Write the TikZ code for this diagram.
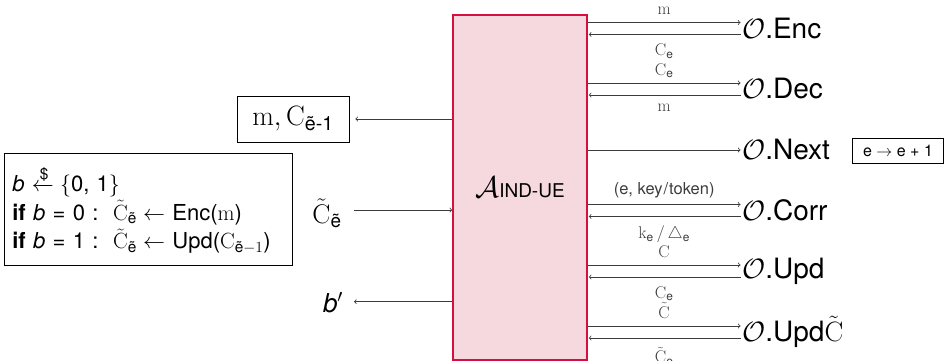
\RequirePackage{fix-cm}
\documentclass[tikz,border=0pt]{standalone}
\usepackage{amsmath}
\usepackage{amssymb}
\usepackage[no-math]{fontspec}
\setmainfont{TeX Gyre Heros}
\definecolor{aborder}{RGB}{212,16,64}
\definecolor{afill}{RGB}{246,216,223}
\definecolor{arcol}{RGB}{60,60,60}
\begin{document}
\begin{tikzpicture}[x=1pt,y=-1pt,
  ar/.style={line width=0.8pt, arcol, ->},
  olab/.style={anchor=west, inner sep=0pt, font=\fontsize{28}{32}\selectfont},
  lab/.style={font=\fontsize{17}{19}\selectfont, inner sep=0pt},
  toplab/.style={lab, anchor=base, midway, yshift=8pt},
  txtlab/.style={lab, font=\fontsize{16.5}{19}\selectfont, anchor=base, midway, yshift=9.7pt},
  botlab/.style={lab, anchor=north, midway, yshift=-9pt},
  abox/.style={draw=aborder, fill=afill, line width=1.6pt, minimum width=134pt, minimum height=345pt, inner sep=0pt},
  bx/.style={draw, line width=0.7pt}]
\useasboundingbox (0,0) rectangle (945,361);

% central adversary box
\node[abox] (A) at (520,187.5) {{\fontsize{30}{34}\selectfont$\mathcal{A}$}{\fontsize{19}{22}\selectfont IND-UE}};

% oracles
\node[olab] (enc)  at (742,28.5) {$\mathcal{O}$.Enc};
\node[olab] (dec)  at (742,89)   {$\mathcal{O}$.Dec};
\node[olab] (nxt)  at (742,150)  {$\mathcal{O}$.Next};
\node[olab] (corr) at (742,210.5) {$\mathcal{O}$.Corr};
\node[olab] (upd)  at (742,271)  {$\mathcal{O}$.Upd};
\node[olab] (updc) at (742,332)  {$\mathcal{O}$.Upd$\tilde{\mathrm{C}}$};
\node[bx, font=\fontsize{16}{18}\selectfont, minimum width=90.6pt, minimum height=25pt, inner sep=1pt] (nb) at (898,150.8) {e $\rightarrow$ e + 1};

\coordinate (e1) at ([xshift=-1.5pt,yshift=6pt]enc.west);   \coordinate (e2) at ([xshift=-1.5pt,yshift=-6pt]enc.west);
\coordinate (d1) at ([xshift=-1.5pt,yshift=6pt]dec.west);   \coordinate (d2) at ([xshift=-1.5pt,yshift=-6pt]dec.west);
\coordinate (n1) at ([xshift=-1.5pt]nxt.west);
\coordinate (c1) at ([xshift=-1.5pt,yshift=6pt]corr.west);  \coordinate (c2) at ([xshift=-1.5pt,yshift=-6pt]corr.west);
\coordinate (u1) at ([xshift=-1.5pt,yshift=6pt]upd.west);   \coordinate (u2) at ([xshift=-1.5pt,yshift=-6pt]upd.west);
\coordinate (v1) at ([xshift=-1.5pt,yshift=6pt]updc.west);  \coordinate (v2) at ([xshift=-1.5pt,yshift=-6pt]updc.west);

\draw[ar] (A.east |- e1) -- node[toplab]{$\mathrm{m}$} (e1);
\draw[ar,<-,shorten <=1pt] (A.east |- e2) -- node[botlab]{$\mathrm{C}_{\text{e}}$} (e2);
\draw[ar] (A.east |- d1) -- node[toplab]{$\mathrm{C}_{\text{e}}$} (d1);
\draw[ar,<-,shorten <=1pt] (A.east |- d2) -- node[botlab]{$\mathrm{m}$} (d2);
\draw[ar] (A.east |- n1) -- (n1);
\draw[ar] (A.east |- c1) -- node[txtlab]{(e, key\kern1pt/\kern1pt token)} (c1);
\draw[ar,<-,shorten <=1pt] (A.east |- c2) -- node[botlab]{$\mathrm{k}_{\text{e}}\,/\,\triangle_{\text{e}}$} (c2);
\draw[ar] (A.east |- u1) -- node[toplab]{$\mathrm{C}$} (u1);
\draw[ar,<-,shorten <=1pt] (A.east |- u2) -- node[botlab]{$\mathrm{C}_{\text{e}}$} (u2);
\draw[ar] (A.east |- v1) -- node[toplab]{$\tilde{\mathrm{C}}$} (v1);
\draw[ar,<-,shorten <=1pt] (A.east |- v2) -- node[botlab]{$\tilde{\mathrm{C}}_{\text{e}}$} (v2);

% left side
\node[bx, font=\fontsize{28}{32}\selectfont, minimum width=112pt, minimum height=46pt, inner sep=2pt] (mc) at (293,119) {$\mathrm{m}, \mathrm{C}_{\text{\~e-1}}$};
\draw[ar, shorten >=6pt] (A.west |- mc.east) -- (mc.east);

\node[bx, anchor=north west, inner xsep=8pt, inner ysep=4pt, text width=272pt, minimum height=112pt, font=\fontsize{22}{28.5}\selectfont, align=left] (gbox) at (4,153) {%
\textit{b} $\xleftarrow{\text{\$}}\{$0, 1$\}$\\
\textbf{if} \textit{b} = 0 :\ \ $\tilde{\mathrm{C}}_{\text{\~e}} \leftarrow$ Enc($\mathrm{m}$)\\
\textbf{if} \textit{b} = 1 :\ \ $\tilde{\mathrm{C}}_{\text{\~e}} \leftarrow$ Upd($\mathrm{C}_{\text{\~e}-1}$)};

\node[font=\fontsize{27}{31}\selectfont, anchor=base, inner sep=0pt] (ct) at (327,223) {$\tilde{\mathrm{C}}_{\text{\~e}}$};
\coordinate (cts) at (354,210);
\draw[ar] (cts) -- (A.west |- cts);

\node[font=\fontsize{26}{30}\selectfont, anchor=base, inner sep=0pt] (bp) at (333,312) {\textit{b}$'$};
\coordinate (bpe) at (354,301.7);
\draw[ar] (A.west |- bpe) -- (bpe);
\end{tikzpicture}
\end{document}
